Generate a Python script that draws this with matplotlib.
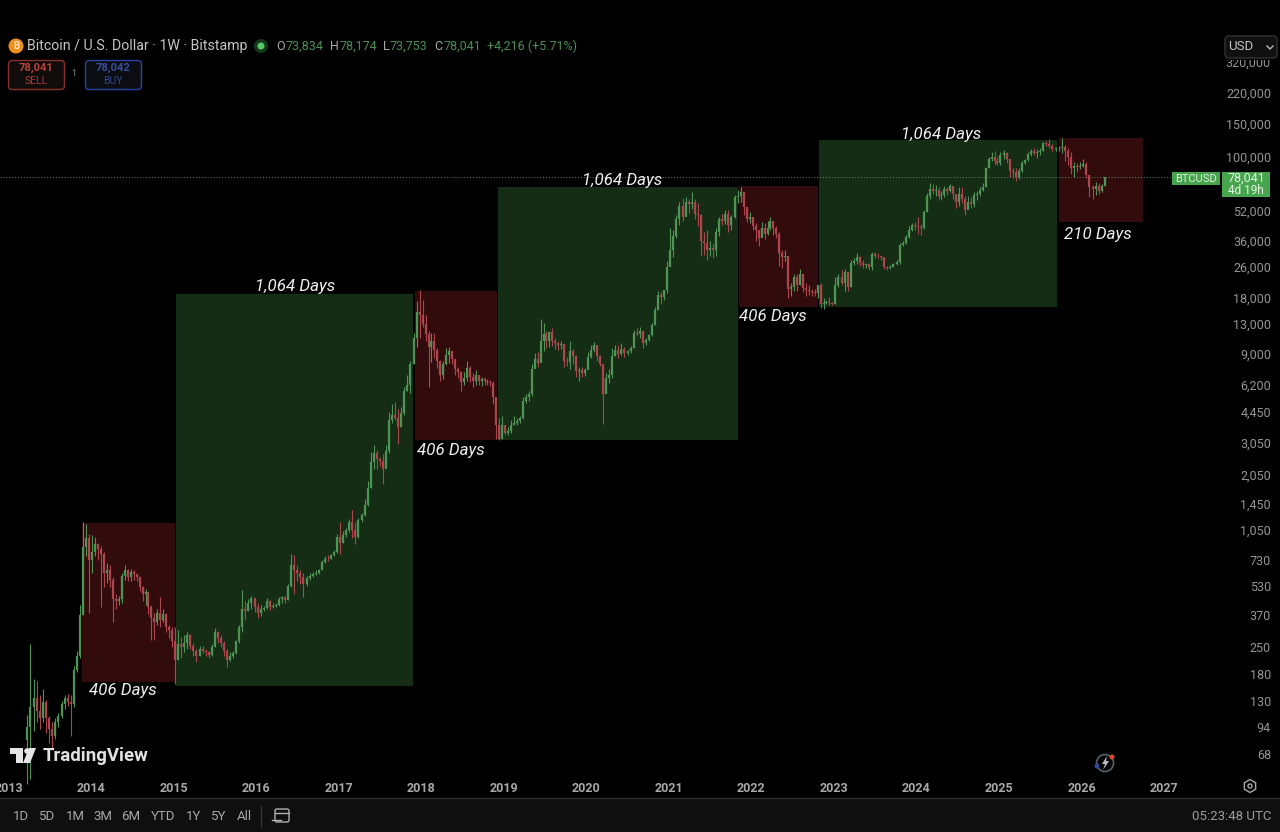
import matplotlib
matplotlib.use("Agg")
import matplotlib.pyplot as plt
from matplotlib.patches import Rectangle, FancyBboxPatch, Circle, Polygon, RegularPolygon
from matplotlib.lines import Line2D
from matplotlib.transforms import Affine2D

plt.rcParams['font.family'] = ['Roboto', 'DejaVu Sans']

# candles, about one every two weeks (open = previous close)
closes_2013 = [95, 120, 135, 115, 105, 128, 105, 92, 85, 100, 108, 125, 135, 128, 125, 190, 225, 370, 850, 950, 730]
highs_2013 = [110, 262, 170, 165, 140, 150, 132, 108, 100, 105, 112, 130, 140, 142, 140, 200, 240, 420, 1160, 1130, 1000]
lows_2013 = [47, 50, 90, 100, 92, 100, 88, 78, 72, 82, 95, 105, 118, 122, 85, 120, 185, 220, 370, 760, 380]

closes_2014 = [800, 880, 830, 780, 620, 640, 570, 450, 440, 450, 600, 640, 590, 630, 610, 590, 520, 480, 490, 410, 360, 340, 380, 350, 375, 320, 310, 270]
highs_2014 = [990, 960, 900, 860, 800, 700, 680, 590, 480, 470, 620, 680, 650, 650, 640, 620, 600, 530, 510, 490, 420, 380, 400, 460, 400, 380, 330, 320]
lows_2014 = [620, 760, 730, 410, 520, 550, 520, 340, 400, 420, 430, 570, 560, 560, 570, 560, 500, 440, 420, 375, 275, 275, 330, 320, 340, 300, 280, 250]

closes_2015 = [215, 260, 250, 265, 290, 255, 240, 225, 245, 240, 235, 228, 250, 300, 280, 265, 240, 215, 225, 232, 270, 320, 400, 390, 430, 455, 410]
highs_2015 = [320, 310, 285, 290, 300, 295, 265, 245, 255, 255, 245, 240, 260, 315, 305, 290, 270, 245, 235, 240, 275, 330, 505, 440, 450, 470, 465]
lows_2015 = [160, 215, 220, 235, 245, 245, 225, 210, 225, 232, 225, 220, 225, 250, 265, 250, 225, 197, 212, 220, 230, 265, 300, 350, 390, 400, 385]

closes_2016 = [380, 400, 405, 440, 410, 415, 420, 450, 460, 445, 530, 680, 640, 620, 590, 540, 580, 600, 610, 620, 640, 710, 740, 735, 770, 800, 960]
highs_2016 = [430, 420, 415, 455, 445, 430, 430, 460, 470, 470, 540, 780, 770, 680, 640, 620, 600, 620, 625, 640, 655, 730, 760, 770, 785, 820, 1000]
lows_2016 = [360, 365, 390, 400, 395, 405, 410, 415, 430, 430, 445, 520, 480, 560, 540, 465, 530, 570, 590, 605, 610, 640, 700, 715, 735, 760, 790]

closes_2017 = [900, 990, 1050, 1150, 1050, 960, 1180, 1260, 1430, 1750, 2400, 2700, 2500, 2450, 2200, 2750, 4000, 4300, 4100, 3700, 4400, 5700, 6200, 8000, 11000, 15000, 14500]
highs_2017 = [1150, 1040, 1080, 1200, 1340, 1150, 1210, 1290, 1530, 1900, 2720, 2980, 2800, 2550, 2650, 2950, 4450, 4900, 5000, 4600, 4700, 6000, 7000, 8300, 11700, 17200, 19660]
lows_2017 = [780, 890, 960, 1020, 950, 880, 950, 1150, 1240, 1400, 1750, 2200, 2200, 2300, 1830, 2300, 2700, 3900, 4000, 3000, 3700, 4300, 5700, 5600, 8000, 9800, 11000]

closes_2018 = [13000, 11500, 9800, 10500, 9500, 8300, 7000, 8000, 8900, 9300, 8500, 7500, 7200, 6400, 6700, 7600, 6800, 6500, 7000, 6500, 6600, 6450, 6400, 6300, 5300, 3800, 3200, 3800]
highs_2018 = [17500, 14500, 12000, 11700, 11600, 9700, 8400, 8300, 9700, 9800, 9300, 8500, 7700, 7300, 7200, 8300, 7800, 7100, 7400, 7000, 6800, 6800, 6600, 6550, 6500, 5300, 4100, 4200]
lows_2018 = [12500, 10500, 6000, 8200, 8600, 7600, 6500, 6600, 7900, 8100, 8000, 7000, 6700, 5750, 6200, 6500, 6400, 6000, 6200, 6200, 6100, 6200, 6200, 6100, 4900, 3200, 3150, 3200]

closes_2019 = [3450, 3500, 3800, 3900, 3950, 4100, 5100, 5300, 5500, 7500, 8500, 8100, 10500, 11500, 10500, 11800, 10500, 10300, 10000, 10200, 8300, 8200, 9400, 8800, 7300, 7400, 7100, 7400]
highs_2019 = [3800, 3700, 4000, 4200, 4100, 4200, 5300, 5500, 5700, 8000, 9100, 9200, 13800, 13200, 12000, 12000, 12300, 11000, 10600, 10500, 10200, 8700, 10500, 9600, 8900, 7700, 7700, 7600]
lows_2019 = [3350, 3350, 3450, 3800, 3800, 3900, 4050, 4950, 5100, 5400, 7600, 7700, 9300, 9400, 9700, 9800, 9900, 9600, 9500, 9600, 7700, 7800, 7500, 8000, 6800, 6500, 6800, 6900]

closes_2020 = [8700, 9500, 10000, 8800, 8000, 5500, 6700, 7000, 8800, 9500, 9000, 9600, 9100, 9300, 9700, 11600, 11500, 11900, 10300, 10700, 11300, 12900, 15500, 18500, 18000, 19700, 26000]
highs_2020 = [9200, 10000, 10400, 10100, 8900, 8000, 7100, 7500, 9700, 10000, 10000, 10300, 9800, 9500, 9900, 12100, 12400, 12500, 12000, 10900, 11500, 13200, 16000, 19500, 19300, 19800, 28000]
lows_2020 = [8000, 8600, 9200, 8300, 7800, 3850, 5800, 6300, 6700, 8800, 8600, 8900, 8700, 8900, 9100, 9700, 11200, 11000, 9700, 10000, 10600, 11200, 12800, 15500, 16500, 17500, 19000]

closes_2021 = [32000, 38000, 47000, 55000, 48000, 58000, 56000, 58000, 50000, 49000, 36000, 35000, 32000, 33000, 32000, 40000, 47000, 46000, 50000, 43500, 48000, 61000, 62000, 65000, 54000, 47000, 48000]
highs_2021 = [42000, 41000, 49000, 58000, 60600, 61000, 60000, 64800, 60000, 57000, 50000, 40000, 41000, 36000, 35000, 42000, 48000, 50000, 52500, 52000, 49000, 62800, 67000, 69000, 62000, 51000, 51000]
lows_2021 = [27500, 29500, 37000, 43600, 46000, 50000, 50500, 53000, 47000, 43000, 30000, 30200, 28500, 30000, 29000, 30000, 38000, 43500, 44000, 40000, 41000, 47500, 57000, 58000, 49000, 45000, 44500]

closes_2022 = [43000, 41000, 37000, 42000, 39000, 42000, 46000, 42000, 39000, 31000, 29500, 30000, 20000, 20500, 23000, 21000, 24000, 20200, 19800, 19500, 19200, 19000, 20800, 16500, 16800, 17100, 16700, 16600]
highs_2022 = [48000, 44500, 41000, 45000, 44500, 46000, 48000, 46000, 43000, 40000, 32000, 32000, 29500, 21500, 23800, 24000, 25300, 24000, 21500, 20800, 20000, 20000, 21000, 21400, 17800, 17500, 18000, 17000]
lows_2022 = [41000, 36000, 33500, 37500, 36500, 38500, 41000, 38500, 37000, 26500, 25800, 28000, 17800, 18300, 19500, 19500, 20800, 19200, 18300, 18500, 18200, 18300, 17800, 15800, 15600, 16500, 16300, 16400]

closes_2023 = [21000, 23000, 21500, 24500, 20500, 27500, 28000, 29500, 27500, 26800, 27000, 26000, 30500, 30000, 29800, 29400, 26000, 25800, 26200, 27000, 27800, 34000, 35000, 37500, 41000, 43500, 43000]
highs_2023 = [23000, 23800, 25000, 25300, 23000, 28500, 29000, 31000, 30000, 28500, 27500, 27500, 31500, 31500, 31000, 30000, 29500, 26500, 26800, 27500, 28500, 35000, 36000, 38500, 43000, 44500, 45000]
lows_2023 = [16500, 20500, 21000, 19500, 19500, 20500, 26700, 26900, 26500, 25800, 25900, 25000, 25200, 29000, 29000, 28500, 25400, 25100, 25500, 26000, 26800, 27000, 33500, 34500, 37000, 40500, 41000]

closes_2024 = [42500, 42000, 51000, 62000, 68000, 66000, 67000, 62000, 63000, 68000, 66000, 70000, 64000, 58000, 64000, 60000, 52000, 58000, 56000, 63000, 63500, 67000, 69000, 87000, 98000, 100000, 95000, 93000]
highs_2024 = [48000, 44000, 52300, 64400, 73000, 72000, 71000, 69000, 66000, 70000, 69000, 71500, 70000, 64000, 69500, 69000, 62000, 62000, 61000, 65000, 66000, 69000, 73000, 89000, 99800, 106000, 108000, 100000]
lows_2024 = [39000, 38500, 41500, 51000, 60000, 64000, 62000, 60000, 59000, 61000, 63000, 65000, 60000, 53500, 55000, 57000, 49000, 53000, 53500, 54000, 59000, 62000, 66000, 69000, 87000, 95000, 91000, 91000]

closes_2025 = [102000, 105000, 97000, 84000, 83000, 78000, 84000, 93000, 96000, 104000, 107000, 105000, 106000, 108000, 118000, 117000, 115000, 110000, 111000, 112000, 113000, 108000, 100000, 87000, 90000, 88000, 90000]
highs_2025 = [106000, 109000, 106000, 98000, 87000, 87000, 87000, 95000, 98000, 106000, 110000, 111000, 110000, 112000, 120000, 122000, 124000, 117000, 113000, 115000, 126000, 116000, 112000, 106000, 94000, 93000, 94000]
lows_2025 = [90700, 98000, 93000, 78000, 77000, 75000, 76000, 83000, 92000, 95000, 101000, 102000, 99000, 103000, 107000, 114000, 112000, 107000, 108000, 107000, 105000, 95000, 91000, 81000, 78500, 83000, 86000]

closes_2026 = [92000, 80000, 69000, 68000, 70000, 66000, 70000, 78041]
highs_2026 = [97000, 94000, 79000, 71000, 74000, 73000, 72000, 78174]
lows_2026 = [88000, 77500, 61000, 60000, 63000, 64000, 65000, 70000]

year_rows = [
    (2013, closes_2013, highs_2013, lows_2013), (2014, closes_2014, highs_2014, lows_2014),
    (2015, closes_2015, highs_2015, lows_2015), (2016, closes_2016, highs_2016, lows_2016),
    (2017, closes_2017, highs_2017, lows_2017), (2018, closes_2018, highs_2018, lows_2018),
    (2019, closes_2019, highs_2019, lows_2019), (2020, closes_2020, highs_2020, lows_2020),
    (2021, closes_2021, highs_2021, lows_2021), (2022, closes_2022, highs_2022, lows_2022),
    (2023, closes_2023, highs_2023, lows_2023), (2024, closes_2024, highs_2024, lows_2024),
    (2025, closes_2025, highs_2025, lows_2025), (2026, closes_2026, highs_2026, lows_2026),
]

# coloured cycle boxes
box_start = [2013.891, 2015.030, 2017.925, 2018.925, 2021.851, 2022.820, 2025.728]
box_end = [2015.018, 2017.901, 2018.919, 2021.839, 2022.808, 2025.703, 2026.745]
box_low = [164, 156, 3152, 3152, 16000, 16000, 45200]
box_high = [1144, 18755, 19460, 69300, 70150, 123100, 126100]
box_up = [False, True, False, True, False, True, False]

price_ticks = [320000, 220000, 150000, 100000, 52000, 36000, 26000, 18000, 13000, 9000, 6200, 4450, 3050,
               2050, 1450, 1050, 730, 530, 370, 250, 180, 130, 94, 68]
year_ticks = list(range(2013, 2028))
last_price = 78041

days_labels = ['1,064 Days', '1,064 Days', '1,064 Days', '406 Days', '406 Days', '406 Days', '210 Days']
days_x = [295, 622, 941, 123, 451, 773, 1098]
days_y = [286, 180, 135, 691, 450, 317, 234]
range_buttons = ['1D', '5D', '1M', '3M', '6M', 'YTD', '1Y', '5Y', 'All']
range_x = [21, 47, 75, 103, 131, 163, 194, 219, 244]

UP = '#4f9457'
DOWN = '#ad464c'
MUTED = '#a3a3a3'

fig = plt.figure(figsize=(12.8, 8.32), dpi=100, facecolor='black')
ax = fig.add_axes([0, 0, 1, 1], facecolor='black')
ax.set_yscale('log')
ax.set_xlim(2012.8975, 2028.405)
ax.set_ylim(26.2, 680600)
for s in ax.spines.values():
    s.set_visible(False)

for i in range(len(box_start)):
    ax.add_patch(Rectangle((box_start[i], box_low[i]), box_end[i] - box_start[i], box_high[i] - box_low[i],
                           facecolor='#152c15' if box_up[i] else '#320c0d', edgecolor='none', zorder=1))

ax.hlines(last_price, 2012.8975, 2027.13, color='#5f8f5f', lw=0.7, linestyles=(0, (1, 2)), zorder=2)

# candles
prev = None
for year, closes, highs, lows in year_rows:
    if year == 2013:
        start, step = 2013.21, 0.79 / len(closes)
    elif year == 2026:
        start, step = 2026.0, 1 / 26
    else:
        start, step = year, 1 / len(closes)
    for i in range(len(closes)):
        x = start + (i + 0.5) * step
        o = prev if prev is not None else closes[i] * 0.85
        c = closes[i]
        col = UP if c >= o else DOWN
        ax.vlines(x, lows[i], highs[i], color=col, lw=0.8, zorder=3)
        ax.vlines(x, min(o, c), max(o, c), color=col, lw=1.6, zorder=4)
        prev = c

# axis labels live inside the frame, like the TradingView price scale
ax.minorticks_off()
ax.set_yticks(price_ticks, [f'{v:,}' for v in price_ticks])
ax.yaxis.set_minor_locator(matplotlib.ticker.NullLocator())
ax.tick_params(axis='y', left=False, labelleft=False, right=True, labelright=True, length=0, pad=-6.5,
               labelsize=9, labelcolor='#959595')
plt.setp(ax.get_yticklabels(), ha='right')
ax.set_xticks(year_ticks, [str(y) for y in year_ticks])
ax.tick_params(axis='x', length=0, pad=-36, labelsize=9, labelcolor='#a8a8a8')
plt.setp(ax.get_xticklabels(), fontweight='bold')

# everything below is interface, placed in pixels from the top left
px = Affine2D().scale(1, -1).translate(0, 832)


def label(x, y, s, color=MUTED, size=9, ha='left', **kw):
    fig.text(x, y, s, color=color, fontsize=size, ha=ha, va='center', transform=px, **kw)


def shape(patch):
    patch.set_transform(px)
    fig.add_artist(patch)


for s, x, y in zip(days_labels, days_x, days_y):
    label(x, y, s, color='#f0f0f0', size=12.2, ha='center', style='italic')

# header
shape(Circle((16, 46), 7.5, facecolor='#ee8f1f', edgecolor='none'))
label(16, 46, 'B', color='#ffe2b8', size=7, ha='center', fontweight='bold')
label(27, 46, 'Bitcoin / U.S. Dollar · 1W · Bitstamp', color='#c4c4c4', size=10.15)
shape(Circle((261, 46), 7, facecolor='#14391a', edgecolor='none'))
shape(Circle((261, 46), 3.5, facecolor='#58c765', edgecolor='none'))
GREEN_TEXT = '#4b8f55'
for x, s in zip([276, 330, 383, 434], ['O', 'H', 'L', 'C']):
    label(x, 46, s, color='#a9a9a9', size=9)
for x, s in zip([285, 339, 390, 443, 487], ['73,834', '78,174', '73,753', '78,041', '+4,216 (+5.71%)']):
    label(x, 46, s, color=GREEN_TEXT, size=9)

# sell / buy
shape(FancyBboxPatch((8.5, 60.5), 56, 29, boxstyle='round,pad=0,rounding_size=4', facecolor='#100c0c',
                     edgecolor='#8a302c', lw=1))
label(36, 68, '78,041', color='#b8423c', size=8, ha='center', fontweight='bold')
label(36, 81, 'SELL', color='#a63a35', size=7.5, ha='center')
label(74, 74, '1', color='#8a8a8a', size=6.5, ha='center')
shape(FancyBboxPatch((85.5, 60.5), 56, 29, boxstyle='round,pad=0,rounding_size=4', facecolor='#0c0d12',
                     edgecolor='#2a45a0', lw=1))
label(113, 68, '78,042', color='#3a4f9c', size=8, ha='center', fontweight='bold')
label(113, 81, 'BUY', color='#33478f', size=7.5, ha='center')

# currency dropdown, its backing hides the top half of the 320,000 label
shape(Rectangle((1222, 30), 58, 30, facecolor='black', edgecolor='none'))
shape(FancyBboxPatch((1225, 36), 52, 22, boxstyle='round,pad=0,rounding_size=4', facecolor='#101010',
                     edgecolor='#333333', lw=1))
label(1228, 47, 'USD', color='#c4c4c4', size=9.5)
fig.add_artist(Line2D([1267, 1270, 1273], [46, 49, 46], color='#bbbbbb', lw=1, transform=px))

# last price tags
shape(Rectangle((1172, 172), 48, 13, facecolor='#47a54e', edgecolor='none'))
label(1196, 179, 'BTCUSD', color='#d9efdb', size=8, ha='center')
shape(Rectangle((1222, 172), 48, 25, facecolor='#47a54e', edgecolor='none'))
label(1246, 178, '78,041', color='#e6f5e7', size=9, ha='center')
label(1246, 190, '4d 19h', color='#e6f5e7', size=8.5, ha='center')

# TradingView mark
shape(Polygon([(10, 748), (23, 748), (23, 763), (16, 763), (16, 754), (10, 754)], facecolor='#e6e6e6', edgecolor='none'))
shape(Circle((27, 751), 2.8, facecolor='#e6e6e6', edgecolor='none'))
shape(Polygon([(29, 748), (36, 748), (30, 763), (23, 763)], facecolor='#e6e6e6', edgecolor='none'))
label(43, 756, 'TradingView', color='#e2e2e2', size=13.4, fontweight='bold')

# lightning badge
shape(Circle((1105, 763), 8.5, facecolor='none', edgecolor='#56606e', lw=1.2))
shape(Polygon([(1107, 756), (1102, 764), (1105, 764), (1103, 770), (1109, 761), (1106, 761)], facecolor='#b9bec6', edgecolor='none'))
shape(Circle((1097, 766), 2.5, facecolor='#2f4a9c', edgecolor='none'))
shape(Circle((1112, 757), 2.5, facecolor='#d4482e', edgecolor='none'))

# settings hexagon
shape(RegularPolygon((1250, 786), 6, radius=6.5, facecolor='none', edgecolor='#a8a8a8', lw=1))
shape(Circle((1250, 786), 2, facecolor='none', edgecolor='#a8a8a8', lw=1))

# bottom toolbar
shape(Rectangle((0, 798), 1280, 34, facecolor='#0f0f0f', edgecolor='none'))
fig.add_artist(Line2D([0, 1280], [798, 798], color='#2c2c2c', lw=1, transform=px))
for s, x in zip(range_buttons, range_x):
    label(x, 816, s, color='#a8a8a8', size=9.5, ha='center')
fig.add_artist(Line2D([261, 261], [806, 826], color='#333333', lw=1, transform=px))
shape(FancyBboxPatch((275, 809), 14, 13, boxstyle='round,pad=0,rounding_size=2', facecolor='none', edgecolor='#b0b0b0', lw=1))
fig.add_artist(Line2D([275, 289], [813, 813], color='#b0b0b0', lw=1, transform=px))
fig.add_artist(Line2D([272, 281], [820, 820], color='#b0b0b0', lw=1, transform=px))
label(1271, 816, '05:23:48 UTC', color='#9c9c9c', size=9.5, ha='right')

fig.savefig('out.png', dpi=100, facecolor='black')
